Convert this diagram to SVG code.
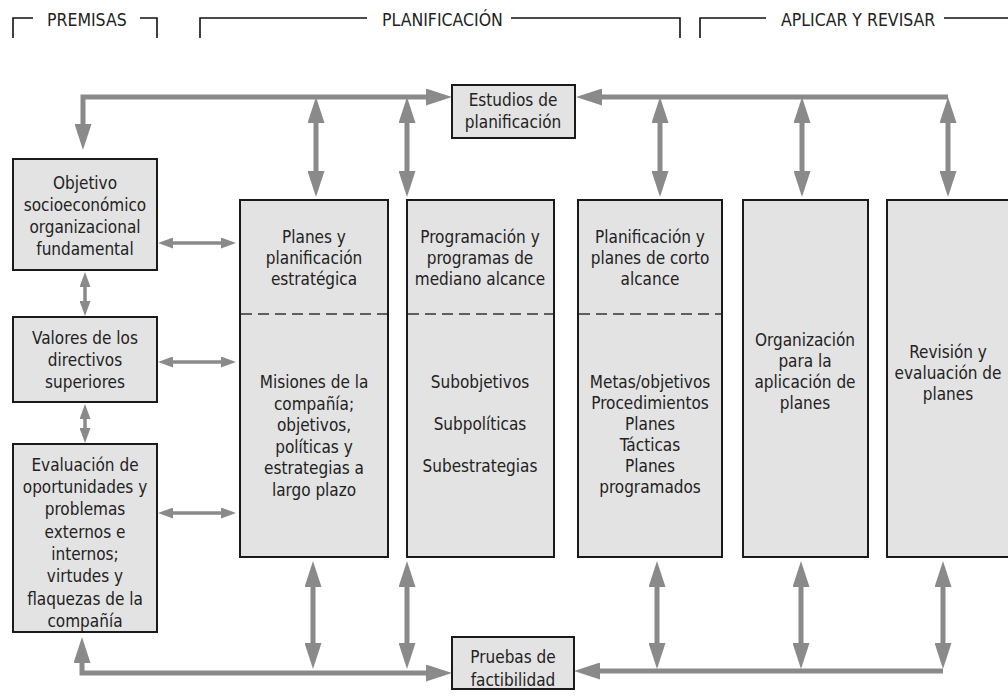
<svg xmlns="http://www.w3.org/2000/svg" width="1008" height="700" viewBox="0 0 1008 700">
<style>
.t{font-family:"DejaVu Sans Condensed","Liberation Sans",Arial,sans-serif;font-stretch:condensed;font-size:17px;fill:#222;text-anchor:middle}
.h{font-family:"DejaVu Sans Condensed","Liberation Sans",Arial,sans-serif;font-stretch:condensed;font-size:17.5px;fill:#222}
.br{fill:none;stroke:#111;stroke-width:1.6}
.box{fill:#e3e3e3;stroke:#1a1a1a;stroke-width:2}
.dash{stroke:#333;stroke-width:1.5;stroke-dasharray:11 6}
.big{fill:none;stroke:#8a8a8a;stroke-width:5;marker-end:url(#ab)}
.bigd{fill:none;stroke:#8a8a8a;stroke-width:5;marker-start:url(#ab);marker-end:url(#ab)}
.sml{fill:none;stroke:#8a8a8a;stroke-width:3.5;marker-start:url(#as);marker-end:url(#as)}
</style>
<defs>
<marker id="ab" markerUnits="userSpaceOnUse" markerWidth="26" markerHeight="17" refX="0" refY="8.5" orient="auto-start-reverse" viewBox="0 0 26 17"><path d="M0,0 L26,8.5 L0,17 z" fill="#8a8a8a"/></marker>
<marker id="as" markerUnits="userSpaceOnUse" markerWidth="15" markerHeight="11" refX="0" refY="5.5" orient="auto-start-reverse" viewBox="0 0 15 11"><path d="M0,0 L15,5.5 L0,11 z" fill="#8a8a8a"/></marker>
</defs>
<rect width="1008" height="700" fill="#fff"/>

<g id="headers">
<path class="br" d="M13,38 V18 H33"/>
<text class="h" x="47" y="26">PREMISAS</text>
<path class="br" d="M140,18 H157 V38"/>
<path class="br" d="M200,38 V18 H367"/>
<text class="h" x="382" y="26">PLANIFICACIÓN</text>
<path class="br" d="M511,18 H680 V38"/>
<path class="br" d="M700,38 V18 H766"/>
<text class="h" x="781" y="26">APLICAR Y REVISAR</text>
<path class="br" d="M944,18 H1008"/>
</g>

<g id="connectors">
<path class="bigd" d="M83,124 V97 H426"/>
<path class="big" d="M948,97 H602"/>
<path class="bigd" d="M316,123 V171"/>
<path class="bigd" d="M407,123 V171"/>
<path class="bigd" d="M660,123 V171"/>
<path class="bigd" d="M802,123 V171"/>
<path class="bigd" d="M948,123 V171"/>
<path class="bigd" d="M82,663 V673 H426"/>
<path class="big" d="M943,671 H600"/>
<path class="bigd" d="M313,587 V643"/>
<path class="bigd" d="M407,587 V643"/>
<path class="bigd" d="M657,587 V643"/>
<path class="bigd" d="M801,587 V643"/>
<path class="bigd" d="M943,587 V643"/>
<path class="sml" d="M173,243 H221"/>
<path class="sml" d="M173,362 H221"/>
<path class="sml" d="M173,513 H221"/>
<path class="sml" d="M85,287 V301"/>
<path class="sml" d="M85,419 V428"/>
</g>

<g id="estudios">
<rect class="box" x="452" y="85" width="123" height="53"/>
<text class="t" x="513" y="106">Estudios de</text>
<text class="t" x="513" y="128">planificación</text>
</g>
<g id="pruebas">
<rect class="box" x="452" y="637" width="122" height="52"/>
<text class="t" x="513" y="663">Pruebas de</text>
<text class="t" x="513" y="686">factibilidad</text>
</g>

<g id="objetivo">
<rect class="box" x="13" y="159" width="144" height="111"/>
<text class="t" x="85" y="189">Objetivo</text>
<text class="t" x="85" y="211">socioeconómico</text>
<text class="t" x="85" y="233">organizacional</text>
<text class="t" x="85" y="255">fundamental</text>
</g>
<g id="valores">
<rect class="box" x="13" y="317" width="144" height="85"/>
<text class="t" x="85" y="344">Valores de los</text>
<text class="t" x="85" y="366">directivos</text>
<text class="t" x="85" y="388">superiores</text>
</g>
<g id="evaluacion">
<rect class="box" x="13" y="444" width="144" height="188"/>
<text class="t" x="85" y="471">Evaluación de</text>
<text class="t" x="85" y="493">oportunidades y</text>
<text class="t" x="85" y="515">problemas</text>
<text class="t" x="85" y="538">externos e</text>
<text class="t" x="85" y="560">internos;</text>
<text class="t" x="85" y="582">virtudes y</text>
<text class="t" x="85" y="605">flaquezas de la</text>
<text class="t" x="85" y="627">compañía</text>
</g>

<g id="estrategica">
<rect class="box" x="240" y="200" width="148" height="357"/>
<line class="dash" x1="241" y1="314" x2="387" y2="314"/>
<text class="t" x="314" y="243">Planes y</text>
<text class="t" x="314" y="264">planificación</text>
<text class="t" x="314" y="285">estratégica</text>
<text class="t" x="314" y="388">Misiones de la</text>
<text class="t" x="314" y="410">compañía;</text>
<text class="t" x="314" y="431">objetivos,</text>
<text class="t" x="314" y="453">políticas y</text>
<text class="t" x="314" y="474">estrategias a</text>
<text class="t" x="314" y="496">largo plazo</text>
</g>
<g id="mediano">
<rect class="box" x="407" y="200" width="147" height="357"/>
<line class="dash" x1="408" y1="314" x2="553" y2="314"/>
<text class="t" x="480" y="243">Programación y</text>
<text class="t" x="480" y="264">programas de</text>
<text class="t" x="480" y="285">mediano alcance</text>
<text class="t" x="480" y="388">Subobjetivos</text>
<text class="t" x="480" y="430">Subpolíticas</text>
<text class="t" x="480" y="472">Subestrategias</text>
</g>
<g id="corto">
<rect class="box" x="578" y="200" width="144" height="357"/>
<line class="dash" x1="579" y1="314" x2="721" y2="314"/>
<text class="t" x="650" y="243">Planificación y</text>
<text class="t" x="650" y="264">planes de corto</text>
<text class="t" x="650" y="285">alcance</text>
<text class="t" x="650" y="388">Metas/objetivos</text>
<text class="t" x="650" y="409">Procedimientos</text>
<text class="t" x="650" y="430">Planes</text>
<text class="t" x="650" y="451">Tácticas</text>
<text class="t" x="650" y="472">Planes</text>
<text class="t" x="650" y="493">programados</text>
</g>
<g id="organizacion">
<rect class="box" x="743" y="200" width="125" height="357"/>
<text class="t" x="805" y="346">Organización</text>
<text class="t" x="805" y="367">para la</text>
<text class="t" x="805" y="388">aplicación de</text>
<text class="t" x="805" y="409">planes</text>
</g>
<g id="revision">
<rect class="box" x="887" y="200" width="140" height="357"/>
<text class="t" x="948" y="358">Revisión y</text>
<text class="t" x="948" y="379">evaluación de</text>
<text class="t" x="948" y="400">planes</text>
</g>
</svg>
